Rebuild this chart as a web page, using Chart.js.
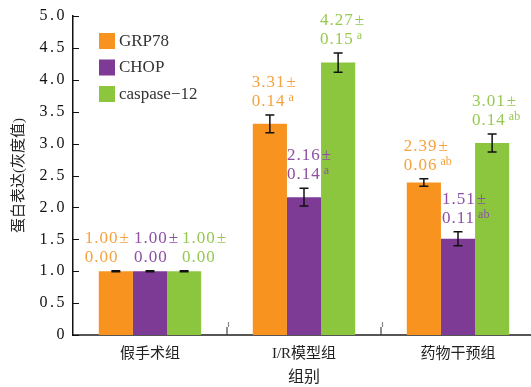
<!DOCTYPE html>
<html>
<head>
<meta charset="utf-8">
<script src="https://cdn.jsdelivr.net/npm/chart.js@4.4.1/dist/chart.umd.min.js"></script>
<style>
  html, body { margin: 0; padding: 0; background: #ffffff; overflow: hidden; }
  #wrap { width: 531px; height: 387px; overflow: hidden; position: relative; }
  #box { position: absolute; left: 0; top: 0; width: 535px; height: 387px; }
</style>
</head>
<body>
<div id="wrap"><div id="box"><canvas id="c"></canvas></div></div>
<script>
// Groups on the x axis
const groups = ['假手术组', 'I/R模型组', '药物干预组'];
const seriesNames = ['GRP78', 'CHOP', 'caspase\u221212'];

// Protein expression (grey value), mean and SD per group
const grp78 = [1.00, 3.31, 2.39];
const grp78Sd = [0.00, 0.14, 0.06];
const chop = [1.00, 2.16, 1.51];
const chopSd = [0.00, 0.14, 0.11];
const casp12 = [1.00, 4.27, 3.01];
const casp12Sd = [0.00, 0.15, 0.14];

// Significance marks written after each SD
const grp78Sig = ['', 'a', 'ab'];
const chopSig = ['', 'a', 'ab'];
const casp12Sig = ['', 'a', 'ab'];

// Y axis ticks
const yTickValues = [0, 0.5, 1.0, 1.5, 2.0, 2.5, 3.0, 3.5, 4.0, 4.5, 5.0];
const yTickLabels = ['0', '0.5', '1.0', '1.5', '2.0', '2.5', '3.0', '3.5', '4.0', '4.5', '5.0'];

const barColors = ['#F7931E', '#7E3B96', '#8CC63F'];
const labelColors = ['#F6A23E', '#8D50A4', '#97C951'];
// horizontal nudge of each value label from its bar's left edge [series][group]
const labelNudge = [[-14, -1, -3], [1, 0, 1], [15, -1, -3]];

const SERIF = '"Liberation Serif", "Times New Roman", serif';
const MIXED = '"Liberation Serif", "Noto Sans CJK SC", serif';

// error bars, value labels, legend, axis decorations
const decorations = {
  id: 'decorations',
  beforeDraw(chart) {
    const y = chart.scales.y;
    if (!y._spaced) {
      const orig = y.drawLabels;
      y.drawLabels = function (area) {
        const c = this.ctx;
        c.save();
        c.letterSpacing = '2.5px';
        orig.call(this, area);
        c.restore();
      };
      y._spaced = true;
    }
  },
  afterDatasetsDraw(chart) {
    const ctx = chart.ctx;
    const ys = chart.scales.y;
    const xs = chart.scales.x;
    const area = chart.chartArea;

    // inward ticks on the y axis
    ctx.save();
    ctx.strokeStyle = '#111';
    ctx.lineWidth = 1;
    ys.ticks.forEach(t => {
      const py = Math.round(ys.getPixelForValue(t.value)) + 0.5;
      ctx.beginPath();
      ctx.moveTo(area.left, py);
      ctx.lineTo(area.left + 6, py);
      ctx.stroke();
    });
    ctx.restore();

    // small break marks between groups on the x axis
    ctx.save();
    ctx.strokeStyle = '#444';
    ctx.lineWidth = 1.2;
    for (let i = 0; i < groups.length - 1; i++) {
      const px = (xs.getPixelForValue(i) + xs.getPixelForValue(i + 1)) / 2;
      ctx.beginPath();
      ctx.moveTo(px, area.bottom);
      ctx.lineTo(px, area.bottom - 8);
      ctx.stroke();
      ctx.strokeStyle = '#888';
      ctx.beginPath();
      ctx.moveTo(px + 1.5, area.bottom - 8);
      ctx.lineTo(px + 1.5, area.bottom - 13);
      ctx.stroke();
      ctx.strokeStyle = '#444';
    }
    ctx.restore();

    chart.data.datasets.forEach((ds, di) => {
      const meta = chart.getDatasetMeta(di);
      meta.data.forEach((bar, i) => {
        const v = ds.data[i];
        const e = ds.sd[i];
        const top = ys.getPixelForValue(v + e);
        const bot = ys.getPixelForValue(v - e);
        const cx = bar.x;

        // error bar
        ctx.save();
        ctx.strokeStyle = '#111';
        ctx.lineWidth = e === 0 ? 2.5 : 1.5;
        ctx.beginPath();
        if (e > 0) {
          ctx.moveTo(cx, top);
          ctx.lineTo(cx, bot);
        }
        ctx.moveTo(cx - 4.5, top);
        ctx.lineTo(cx + 4.5, top);
        ctx.moveTo(cx - 4.5, bot);
        ctx.lineTo(cx + 4.5, bot);
        ctx.stroke();
        ctx.restore();

        // value label: "mean±" over "SD" with superscript mark
        const left = bar.x - bar.width / 2 + labelNudge[di][i];
        const base2 = top - 9;
        const base1 = base2 - 19;
        ctx.save();
        ctx.fillStyle = labelColors[di];
        ctx.textAlign = 'left';
        ctx.textBaseline = 'alphabetic';
        ctx.font = '17px ' + SERIF;
        ctx.letterSpacing = '1px';
        const meanText = v.toFixed(2);
        ctx.fillText(meanText, left, base1);
        ctx.fillText('±', left + ctx.measureText(meanText).width + 1, base1);
        const sdText = e.toFixed(2);
        ctx.fillText(sdText, left, base2);
        const w = ctx.measureText(sdText).width;
        if (ds.sig[i]) {
          ctx.font = '12px ' + SERIF;
          ctx.letterSpacing = '0px';
          ctx.fillText(ds.sig[i], left + w + 3, base2 - 5);
        }
        ctx.restore();
      });
    });

    // legend
    ctx.save();
    ctx.font = '17px ' + SERIF;
    ctx.textAlign = 'left';
    ctx.textBaseline = 'middle';
    const rowTops = [33, 59.5, 86];
    chart.data.datasets.forEach((ds, di) => {
      ctx.fillStyle = ds.backgroundColor;
      ctx.fillRect(99, rowTops[di], 16, 16);
      ctx.fillStyle = '#333';
      ctx.fillText(ds.label, 119, rowTops[di] + 8.5);
    });
    ctx.restore();
  }
};

new Chart(document.getElementById('c'), {
  type: 'bar',
  data: {
    labels: groups,
    datasets: [
      { label: seriesNames[0], data: grp78, sd: grp78Sd, sig: grp78Sig, backgroundColor: barColors[0] },
      { label: seriesNames[1], data: chop, sd: chopSd, sig: chopSig, backgroundColor: barColors[1] },
      { label: seriesNames[2], data: casp12, sd: casp12Sd, sig: casp12Sig, backgroundColor: barColors[2] }
    ]
  },
  options: {
    responsive: true,
    maintainAspectRatio: false,
    animation: false,
    layout: { padding: { left: 0, right: 0, top: 16, bottom: 0 } },
    datasets: { bar: { barPercentage: 1.0, categoryPercentage: 0.665, borderWidth: 0 } },
    plugins: { legend: { display: false }, tooltip: { enabled: false } },
    scales: {
      x: {
        grid: { display: false, drawTicks: false },
        border: { display: true, color: '#555', width: 2 },
        ticks: { font: { family: MIXED, size: 15 }, color: '#222', padding: 10 },
        title: { display: true, text: '组别', font: { family: MIXED, size: 16 }, color: '#222', padding: { top: 0, bottom: 0 } },
        afterFit(s) { s.height = 52; }
      },
      y: {
        min: 0,
        max: 5,
        afterBuildTicks(s) { s.ticks = yTickValues.map(v => ({ value: v })); },
        grid: { display: false, drawTicks: false },
        border: { display: true, color: '#111', width: 1.5 },
        ticks: {
          font: { family: SERIF, size: 16 },
          color: '#111',
          padding: 6,
          callback(value) {
            const k = yTickValues.findIndex(t => Math.abs(t - value) < 1e-9);
            return k >= 0 ? yTickLabels[k] : '';
          }
        },
        title: { display: true, text: '蛋白表达(灰度值)', font: { family: MIXED, size: 15 }, color: '#222', padding: { top: 10, bottom: 0 } },
        afterFit(s) { s.width = 73; }
      }
    }
  },
  plugins: [decorations]
});
</script>
</body>
</html>
